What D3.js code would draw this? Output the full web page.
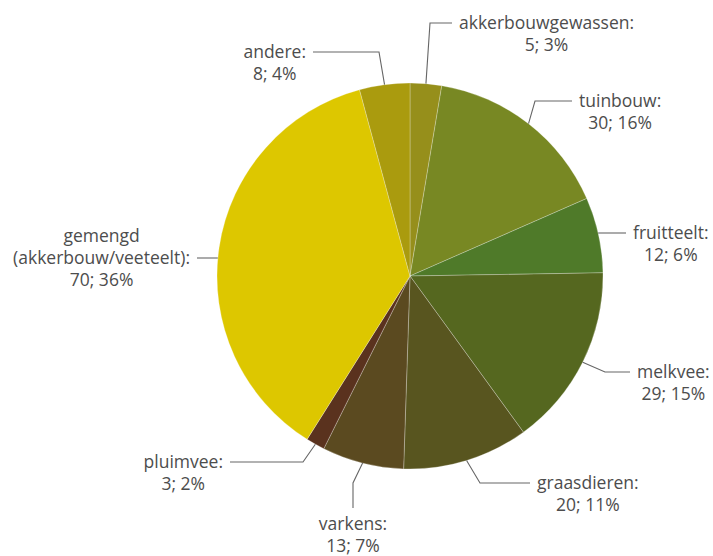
<!DOCTYPE html>
<html><head><meta charset="utf-8">
<script src="https://cdn.jsdelivr.net/npm/d3@7"></script>
<style>body{margin:0;background:#fff}svg{display:block}</style>
</head><body>
<svg id="c" width="713" height="556"></svg>
<script>
// data
const categories = ["akkerbouwgewassen","tuinbouw","fruitteelt","melkvee","graasdieren","varkens","pluimvee","gemengd (akkerbouw/veeteelt)","andere"];
const values = [5,30,12,29,20,13,3,70,8];
const percentLabels = ["3%","16%","6%","15%","11%","7%","2%","36%","4%"];
const colors = ["#968f1b","#788823","#4f7a29","#55671f","#58551f","#5b4a20","#5a321e","#ddc700","#aa9b0e"];

// label layout (positions only)
const labelLayout = [
  {elbow:[430,23], end:[452,23], side:"right"},
  {elbow:[535,101], end:[572,101], side:"right"},
  {elbow:null, end:[626,233], side:"right", horiz:true},
  {elbow:[605,372], end:[630,372], side:"right"},
  {elbow:[480,483], end:[530,483], side:"right"},
  {elbow:[353,483], end:[353,508], side:"below"},
  {elbow:[303,462], end:[230,462], side:"left"},
  {elbow:null, end:[197,258], side:"left", horiz:true, lines:["gemengd","(akkerbouw/veeteelt):"], anchorLine:1},
  {elbow:[379,52], end:[313,52], side:"left"}
];

const cx = 410, cy = 276, R = 193;
const svg = d3.select("#c");
const g = svg.append("g").attr("transform",`translate(${cx},${cy})`);
const pie = d3.pie().sort(null).value(d=>d)(values);
const arc = d3.arc().innerRadius(0).outerRadius(R);
g.selectAll("path.s").data(pie).join("path").attr("class","s")
  .attr("d",arc).attr("fill",(d,i)=>colors[i])
  .attr("stroke","rgba(255,255,255,0.35)").attr("stroke-width",0.75);

const fs = 17.5, lh = 22;
const lab = svg.append("g").attr("font-family","'Open Sans', sans-serif").attr("font-size",fs).attr("fill","#4d4d4d");
pie.forEach((d,i)=>{
  const L = labelLayout[i];
  const mid = (d.startAngle+d.endAngle)/2;
  let sx, sy;
  if (L.horiz){
    sy = L.end[1];
    const dx = Math.sqrt(R*R-(sy-cy)*(sy-cy));
    sx = cx + (L.side==="right"? dx : -dx);
  } else {
    sx = cx + R*Math.sin(mid); sy = cy - R*Math.cos(mid);
  }
  const pts = [[sx,sy]];
  if (L.elbow) pts.push(L.elbow);
  pts.push(L.end);
  svg.append("path").attr("d",d3.line()(pts)).attr("fill","none").attr("stroke","#666").attr("stroke-width",1.1);

  const lines = (L.lines ? L.lines.slice() : [categories[i]+":"]);
  lines.push(values[i]+"; "+percentLabels[i]);
  const al = L.anchorLine||0;
  const t = lab.append("text").attr("text-anchor","middle");
  const spans = lines.map((s,k)=>t.append("tspan").text(s));
  const w = d3.max(spans.map(s=>s.node().getComputedTextLength()));
  let x, y0;
  if (L.side==="right"){ x = L.end[0]+7+w/2; y0 = L.end[1]-al*lh+6; }
  else if (L.side==="left"){ x = L.end[0]-7-w/2; y0 = L.end[1]-al*lh+6; }
  else { x = L.end[0]; y0 = L.end[1]+22; }
  spans.forEach((s,k)=>s.attr("x",x).attr("y",y0+k*lh));
});
</script>
</body></html>
